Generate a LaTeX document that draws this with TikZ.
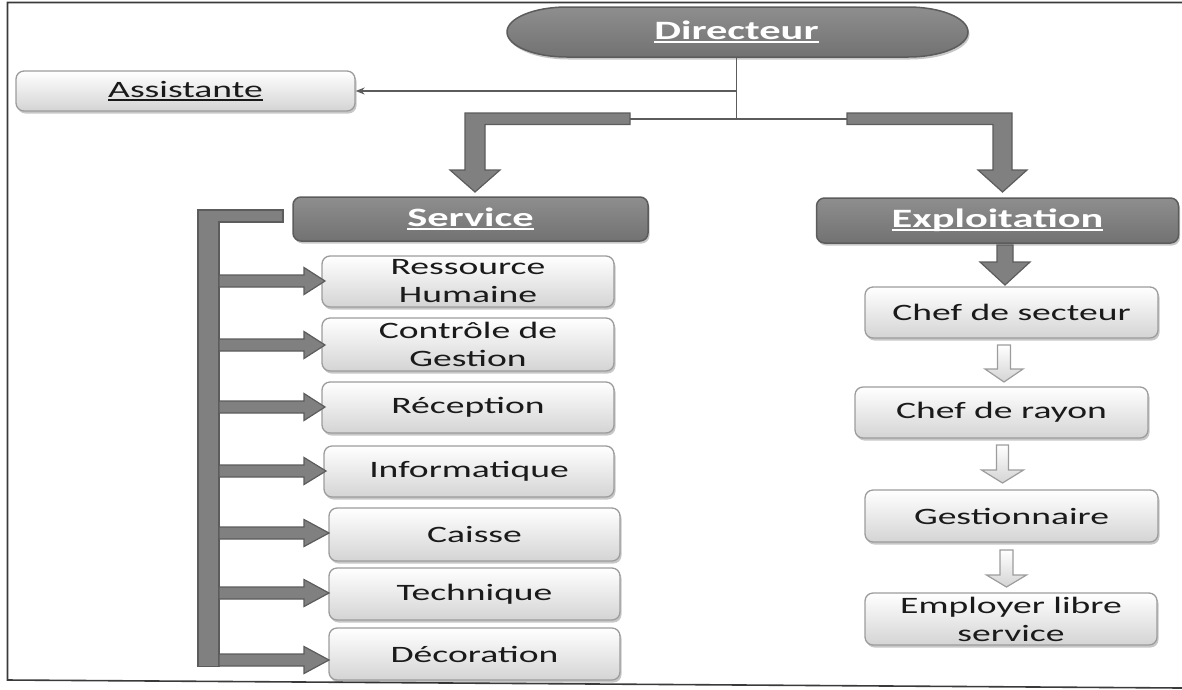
\documentclass[tikz,border=0pt]{standalone}
\usepackage{fontspec}
\setmainfont{Carlito}[FakeStretch=1.6]
\usetikzlibrary{shadows,arrows.meta}
\definecolor{dkfill}{HTML}{808080}
\definecolor{dktop}{HTML}{8E8E8E}
\definecolor{dkbot}{HTML}{727272}
\definecolor{dkline}{HTML}{5C5C5C}
\definecolor{lgbot}{HTML}{D4D4D4}
\definecolor{lgline}{HTML}{9C9C9C}
\definecolor{txt}{HTML}{1A1A1A}
\definecolor{frame}{HTML}{3A3A3A}
\newcommand\myul[1]{\setbox0\hbox{#1}\rlap{\rule[-0.13em]{\wd0}{0.07em}}\box0}
\newcommand\varr[7]{%
  \draw[#1] ({#2-#6},#3) -- ({#2+#6},#3) -- ({#2+#6},#4) -- ({#2+#7},#4) -- (#2,#5)
    -- ({#2-#7},#4) -- ({#2-#6},#4) -- cycle;}
\newcommand\harr[2]{%
  \draw[dkarrow] (219,{#1-6}) -- (304,{#1-6}) -- (304,{#1-13.5}) -- (#2,#1)
    -- (304,{#1+13.5}) -- (304,{#1+6}) -- (219,{#1+6}) -- cycle;}
\tikzset{
  shad/.style={drop shadow={shadow xshift=1.5pt, shadow yshift=-2.5pt, opacity=0.22, fill=black}},
  lbox/.style={shad, rounded corners=8pt, draw=lgline, line width=1.3pt, top color=white,
    bottom color=lgbot, inner sep=0pt, align=center, text=txt,
    font=\fontsize{23.5}{28}\selectfont},
  dbox/.style={shad, rounded corners=8pt, draw=dkline, line width=1.5pt, top color=dktop,
    bottom color=dkbot, inner sep=0pt, align=center, text=white,
    font=\fontsize{26.5}{30}\selectfont\bfseries},
  conn/.style={draw=dkline, line width=1.8pt},
  dkarrow/.style={fill=dkfill, draw=dkline, line width=1.2pt, line join=miter},
  ltarrow/.style={top color=white, bottom color=lgbot, draw=lgline, line width=1.2pt, line join=miter},
}
\begin{document}
\begin{tikzpicture}[x=1pt,y=-1pt]
\useasboundingbox (0,0) rectangle (1182,689);
% frame
\draw[frame, line width=1.6pt] (1182,2.5) -- (7.5,2.5) -- (7.5,680) -- (1182,688);

% Directeur
\path[shad, top color=dktop, bottom color=dkbot, draw=dkline, line width=1.5pt]
  (567,7) -- (908,7) arc[start angle=-90,end angle=90,x radius=60,y radius=25]
  -- (567,57) arc[start angle=90,end angle=270,x radius=60,y radius=25] -- cycle;
\node[inner sep=0pt, minimum width=461pt, minimum height=50pt, text=white,
  font=\fontsize{26.5}{30}\selectfont\bfseries] (dir) at (736.5,32) {\myul{Directeur}};

% Assistante
\node[lbox, minimum width=339pt, minimum height=40pt] (asst) at (185.5,91) {\myul{Assistante}};

% thin connectors
\coordinate (j1) at (736.5,91);
\coordinate (j2) at (736.5,119);
\coordinate (jL) at (628,119);
\coordinate (jR) at (849,119);
\draw[conn] (dir.south) -- (j2);
\draw[conn] (jL) -- (jR);
\draw[conn, line width=1.4pt, -{Stealth[length=9pt,width=7pt]}] (j1) -- (asst.east);

% bent arrows
\draw[dkarrow] (630,113) -- (465,113) -- (465,170) -- (450,170) -- (475,192) -- (500,170)
  -- (485,170) -- (485,124.5) -- (630,124.5) -- cycle;
\draw[dkarrow] (847,113) -- (1012,113) -- (1012,170) -- (1027,170) -- (1002.5,192) -- (978,170)
  -- (993,170) -- (993,124.5) -- (847,124.5) -- cycle;

% Service & Exploitation
\node[dbox, minimum width=355pt, minimum height=44pt] (serv) at (470.5,219) {\myul{Service}};
\node[dbox, minimum width=362pt, minimum height=45pt] (expl) at (997.5,220.5) {\myul{Exploitation}};

% left bracket
\draw[dkarrow] (283,210) -- (198,210) -- (198,666.5) -- (219,666.5) -- (219,222) -- (283,222) -- cycle;

% service boxes
\node[lbox, minimum width=292pt, minimum height=51pt] (rh) at (468,281.5) {Ressource\\Humaine};
\node[lbox, minimum width=292pt, minimum height=53pt] (cg) at (468,344.5) {Contrôle de\\Gestion};
\node[lbox, minimum width=292pt, minimum height=51pt] (rec) at (468,407.5) {Réception};
\node[lbox, minimum width=290pt, minimum height=51pt] (inf) at (469,471.5) {Informatique};
\node[lbox, minimum width=291pt, minimum height=53pt] (cai) at (474.5,534.5) {Caisse};
\node[lbox, minimum width=291pt, minimum height=52pt] (tec) at (474.5,594) {Technique};
\node[lbox, minimum width=291pt, minimum height=52pt] (dec) at (474.5,654) {Décoration};

\harr{281}{325}
\harr{345}{325}
\harr{407}{325}
\harr{471}{326}
\harr{533}{329}
\harr{593}{329}
\harr{660}{329}

% exploitation chain
\node[lbox, minimum width=293pt, minimum height=51pt] (cs) at (1011.5,312.5) {Chef de secteur};
\node[lbox, minimum width=293pt, minimum height=51pt] (cr) at (1001.5,412.5) {Chef de rayon};
\node[lbox, minimum width=293pt, minimum height=52pt] (ges) at (1011.5,516) {Gestionnaire};
\node[lbox, minimum width=292pt, minimum height=52pt] (emp) at (1011,619) {Employer libre\\service};

\varr{dkarrow}{1005}{245}{262}{285}{8}{25}
\varr{ltarrow}{1004}{345}{369}{382}{6.5}{19}
\varr{ltarrow}{1002.5}{445}{470}{483}{6}{21}
\varr{ltarrow}{1006.5}{550}{575}{587}{6.5}{20}
\end{tikzpicture}
\end{document}
